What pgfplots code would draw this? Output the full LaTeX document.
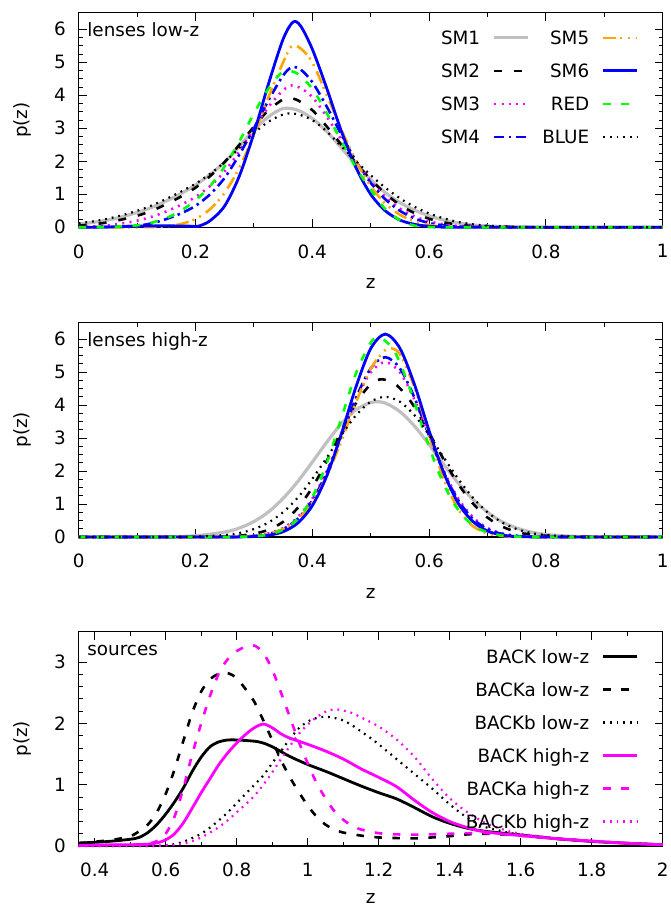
\documentclass[border=0pt]{standalone}
\usepackage{fontspec}
\setmainfont{DejaVu Sans}
\usepackage{pgfplots}
\pgfplotsset{compat=1.18}

\definecolor{smgray}{RGB}{192,192,192}
\definecolor{smorange}{RGB}{255,165,0}
\definecolor{smblue}{RGB}{0,0,255}
\definecolor{smmagenta}{RGB}{255,0,255}
\definecolor{smgreen}{RGB}{0,255,0}
\newcommand\fs{\fontsize{18.4}{22}\selectfont}

\pgfplotsset{
  panel/.style={
    scale only axis, width=584bp, height=214.5bp,
    clip=false,
    /pgf/number format/assume math mode=true,
    tick align=inside, xtick pos=both, ytick pos=both,
    major tick length=8bp, minor tick length=4bp,
    every tick/.style={black, line width=0.9bp},
    axis line style={line width=1.2bp},
    tick label style={font=\fs},
    xticklabel style={inner sep=0pt, yshift=-17bp},
    yticklabel style={inner sep=0pt, xshift=-12.7bp},
    label style={font=\fs},
    xlabel style={at={([yshift=-56bp]axis description cs:0.5,0)}, anchor=center, inner sep=0pt},
    ylabel style={at={([xshift=-56.7bp]axis description cs:0,0.5)}, anchor=center, inner sep=0pt},
    xlabel={z}, ylabel={p(z)},
    legend plot pos=right,
    legend cell align=right,
    legend image code/.code={\draw[##1] (0bp,0bp) -- (34bp,0bp);},
    legend style={at={(1,1)}, anchor=north east, xshift=-24.2bp, yshift=-18.3bp,
      draw=none, fill=none, inner sep=0pt, outer sep=0pt, font=\fs,
      row sep=19.6bp, column sep=12.5bp,
      nodes={inner sep=0pt, text height=13.4bp, text depth=0bp}},
  },
  lens/.style={panel, xmin=0, xmax=1, ymin=0, ymax=6.5,
    xtick={0,0.2,0.4,0.6,0.8,1}, minor x tick num=1,
    ytick={0,1,2,3,4,5,6}, minor y tick num=3},
  pz sm1/.style={smgray, line width=3.2bp},
  pz sm2/.style={black, line width=2.6bp, dash pattern=on 8bp off 12bp},
  pz sm3/.style={smmagenta, line width=2.6bp, dash pattern=on 2bp off 5.3bp},
  pz sm4/.style={smblue, line width=2.6bp, dash pattern=on 10bp off 4.5bp on 2.5bp off 4.5bp},
  pz sm5/.style={smorange, line width=2.6bp, dash pattern=on 13bp off 4bp on 2bp off 5.5bp on 2bp off 6bp},
  pz sm6/.style={smblue, line width=2.8bp},
  pz red/.style={smgreen, line width=2.6bp, dash pattern=on 7.5bp off 10.5bp},
  pz blue/.style={black, line width=2.2bp, dash pattern=on 1.8bp off 4.9bp},
  pz back/.style={black, line width=2.8bp},
  pz backa/.style={black, line width=2.6bp, dash pattern=on 7.5bp off 10.5bp},
  pz backb/.style={black, line width=2.2bp, dash pattern=on 1.8bp off 4.9bp},
  pz hback/.style={smmagenta, line width=2.8bp},
  pz hbacka/.style={smmagenta, line width=2.6bp, dash pattern=on 7.5bp off 10.5bp},
  pz hbackb/.style={smmagenta, line width=2.2bp, dash pattern=on 1.8bp off 4.9bp},
}

\begin{document}
\begin{tikzpicture}
\useasboundingbox (0,0) rectangle (671bp,-908bp);

% ---------------- lenses, low redshift ----------------
\begin{axis}[lens, at={(78.7bp,-227.3bp)}, anchor=south west, legend columns=2]
\addlegendimage{pz sm1}\addlegendentry{SM1}
\addlegendimage{pz sm5}\addlegendentry{SM5}
\addlegendimage{pz sm2}\addlegendentry{SM2}
\addlegendimage{pz sm6}\addlegendentry{SM6}
\addlegendimage{pz sm3}\addlegendentry{SM3}
\addlegendimage{pz red}\addlegendentry{RED}
\addlegendimage{pz sm4}\addlegendentry{SM4}
\addlegendimage{pz blue}\addlegendentry{BLUE}

\addplot[pz sm1, smooth, forget plot] coordinates {(0,0.10) (0.025,0.15) (0.05,0.22) (0.075,0.32) (0.1,0.45) (0.125,0.6) (0.15,0.8) (0.175,1.02) (0.2,1.28) (0.225,1.6) (0.25,1.98) (0.275,2.45) (0.3,2.95) (0.325,3.35) (0.35,3.6) (0.375,3.55) (0.4,3.3) (0.425,2.9) (0.45,2.4) (0.475,1.9) (0.5,1.45) (0.525,1.05) (0.55,0.75) (0.575,0.52) (0.6,0.35) (0.625,0.22) (0.65,0.13) (0.675,0.07) (0.7,0.04) (0.75,0.01) (0.8,0.003) (0.9,0) (1,0)};
\addplot[pz sm2, smooth, forget plot] coordinates {(0,0.05) (0.025,0.09) (0.05,0.15) (0.075,0.24) (0.1,0.35) (0.125,0.5) (0.15,0.7) (0.175,0.93) (0.2,1.2) (0.225,1.55) (0.25,1.98) (0.275,2.5) (0.3,3.05) (0.325,3.55) (0.35,3.88) (0.36,3.92) (0.375,3.85) (0.4,3.55) (0.425,3.05) (0.45,2.5) (0.475,1.95) (0.5,1.45) (0.525,1.02) (0.55,0.68) (0.575,0.43) (0.6,0.26) (0.625,0.15) (0.65,0.08) (0.675,0.04) (0.7,0.02) (0.75,0.005) (0.8,0) (1,0)};
\addplot[pz sm3, smooth, forget plot] coordinates {(0,0.01) (0.025,0.03) (0.05,0.06) (0.075,0.12) (0.1,0.2) (0.125,0.32) (0.15,0.48) (0.175,0.68) (0.2,0.92) (0.225,1.25) (0.25,1.7) (0.275,2.3) (0.3,3.0) (0.325,3.65) (0.35,4.15) (0.365,4.3) (0.38,4.22) (0.4,3.95) (0.425,3.35) (0.45,2.65) (0.475,2.0) (0.5,1.4) (0.525,0.92) (0.55,0.57) (0.575,0.33) (0.6,0.18) (0.625,0.09) (0.65,0.04) (0.7,0.01) (0.75,0) (1,0)};
\addplot[pz sm4, smooth, forget plot] coordinates {(0,0) (0.05,0.01) (0.1,0.05) (0.125,0.12) (0.15,0.25) (0.175,0.42) (0.2,0.65) (0.225,1.0) (0.25,1.5) (0.275,2.2) (0.3,3.0) (0.325,3.85) (0.35,4.6) (0.365,4.85) (0.38,4.78) (0.4,4.4) (0.425,3.65) (0.45,2.8) (0.475,2.0) (0.5,1.35) (0.525,0.85) (0.55,0.5) (0.575,0.27) (0.6,0.13) (0.625,0.06) (0.65,0.025) (0.7,0.005) (0.75,0) (1,0)};
\addplot[pz sm5, smooth, forget plot] coordinates {(0,0) (0.1,0) (0.15,0.03) (0.175,0.1) (0.2,0.25) (0.225,0.55) (0.25,1.05) (0.275,1.8) (0.3,2.8) (0.325,3.95) (0.35,5.0) (0.365,5.5) (0.38,5.42) (0.4,5.0) (0.425,4.0) (0.45,2.95) (0.475,2.0) (0.5,1.25) (0.525,0.72) (0.55,0.38) (0.575,0.18) (0.6,0.07) (0.625,0.02) (0.65,0.005) (0.7,0) (1,0)};
\addplot[pz sm6, smooth, forget plot] coordinates {(0,0) (0.05,0.01) (0.1,0.035) (0.15,0.045) (0.19,0.035) (0.205,0.035) (0.225,0.2) (0.25,0.65) (0.275,1.55) (0.3,2.85) (0.325,4.35) (0.35,5.7) (0.367,6.22) (0.38,6.1) (0.4,5.4) (0.425,4.2) (0.45,2.9) (0.475,1.8) (0.5,1.0) (0.525,0.5) (0.55,0.22) (0.575,0.09) (0.6,0.03) (0.625,0.01) (0.65,0) (1,0)};
\addplot[pz red, smooth, forget plot] coordinates {(0,0) (0.05,0.01) (0.1,0.06) (0.125,0.14) (0.15,0.28) (0.175,0.5) (0.2,0.82) (0.225,1.25) (0.25,1.85) (0.275,2.6) (0.3,3.45) (0.325,4.2) (0.345,4.65) (0.358,4.74) (0.375,4.65) (0.4,4.2) (0.425,3.45) (0.45,2.6) (0.475,1.8) (0.5,1.15) (0.525,0.55) (0.55,0.22) (0.575,0.05) (0.6,0.01) (0.65,0) (1,0)};
\addplot[pz blue, smooth, forget plot] coordinates {(0,0.12) (0.025,0.18) (0.05,0.26) (0.075,0.37) (0.1,0.5) (0.125,0.66) (0.15,0.86) (0.175,1.08) (0.2,1.32) (0.225,1.62) (0.25,1.98) (0.275,2.4) (0.3,2.85) (0.325,3.2) (0.35,3.42) (0.365,3.45) (0.38,3.4) (0.4,3.25) (0.425,2.9) (0.45,2.45) (0.475,2.0) (0.5,1.58) (0.525,1.2) (0.55,0.88) (0.575,0.62) (0.6,0.42) (0.625,0.27) (0.65,0.16) (0.675,0.09) (0.7,0.05) (0.75,0.015) (0.8,0.004) (0.9,0) (1,0)};
\node[anchor=base west, font=\fs, inner sep=0pt] at ([xshift=8.5bp,yshift=-23.5bp]rel axis cs:0,1) {lenses low-z};
\end{axis}

% ---------------- lenses, high redshift ----------------
\begin{axis}[lens, at={(78.7bp,-537bp)}, anchor=south west]
\addplot[pz sm1, smooth] coordinates {(0,0) (0.1,0) (0.15,0.007) (0.2,0.037) (0.25,0.15) (0.275,0.27) (0.3,0.47) (0.325,0.76) (0.35,1.17) (0.375,1.68) (0.4,2.27) (0.425,2.88) (0.45,3.44) (0.475,3.86) (0.5,4.08) (0.51,4.1) (0.525,4.06) (0.55,3.8) (0.575,3.36) (0.6,2.8) (0.625,2.2) (0.65,1.63) (0.675,1.14) (0.7,0.75) (0.725,0.46) (0.75,0.27) (0.775,0.15) (0.8,0.077) (0.85,0.018) (0.9,0.003) (0.95,0) (1,0)};
\addplot[pz sm2, smooth] coordinates {(0,0) (0.2,0) (0.25,0.013) (0.275,0.038) (0.3,0.097) (0.325,0.22) (0.35,0.46) (0.375,0.88) (0.4,1.5) (0.425,2.31) (0.45,3.22) (0.475,4.06) (0.5,4.63) (0.52,4.78) (0.545,4.59) (0.57,4.07) (0.595,3.32) (0.62,2.51) (0.645,1.74) (0.67,1.12) (0.695,0.66) (0.72,0.36) (0.745,0.18) (0.77,0.085) (0.82,0.015) (0.87,0) (1,0)};
\addplot[pz sm3, smooth] coordinates {(0,0) (0.25,0) (0.275,0.012) (0.3,0.039) (0.325,0.11) (0.35,0.27) (0.375,0.6) (0.4,1.16) (0.425,2.01) (0.45,3.07) (0.475,4.16) (0.5,4.99) (0.525,5.3) (0.55,4.99) (0.575,4.16) (0.6,3.07) (0.625,2.01) (0.65,1.16) (0.675,0.6) (0.7,0.27) (0.725,0.11) (0.75,0.039) (0.775,0.012) (0.8,0) (1,0)};
\addplot[pz sm4, smooth] coordinates {(0,0) (0.25,0) (0.275,0.009) (0.3,0.031) (0.325,0.092) (0.35,0.24) (0.375,0.55) (0.4,1.11) (0.425,1.96) (0.45,3.07) (0.475,4.22) (0.5,5.11) (0.525,5.45) (0.55,5.11) (0.575,4.22) (0.6,3.07) (0.625,1.96) (0.65,1.11) (0.675,0.55) (0.7,0.24) (0.725,0.092) (0.75,0.031) (0.775,0.009) (0.8,0) (1,0)};
\addplot[pz sm5, smooth] coordinates {(0,0) (0.25,0) (0.275,0.01) (0.3,0.034) (0.325,0.094) (0.35,0.24) (0.375,0.53) (0.4,1.05) (0.425,1.86) (0.45,2.92) (0.475,4.09) (0.5,5.1) (0.525,5.67) (0.535,5.72) (0.55,5.54) (0.575,4.54) (0.6,3.1) (0.625,1.76) (0.65,0.84) (0.675,0.33) (0.7,0.11) (0.725,0.03) (0.75,0.008) (0.8,0) (1,0)};
\addplot[pz sm6, smooth] coordinates {(0,0) (0.25,0) (0.275,0.004) (0.3,0.015) (0.325,0.052) (0.35,0.16) (0.375,0.42) (0.4,0.95) (0.425,1.86) (0.45,3.14) (0.475,4.56) (0.5,5.71) (0.525,6.15) (0.55,5.72) (0.575,4.62) (0.6,3.22) (0.625,1.95) (0.65,1.02) (0.675,0.47) (0.7,0.18) (0.725,0.06) (0.75,0.018) (0.8,0) (1,0)};
\addplot[pz red, smooth] coordinates {(0,0) (0.25,0) (0.275,0.005) (0.3,0.021) (0.325,0.073) (0.35,0.22) (0.375,0.55) (0.4,1.2) (0.425,2.25) (0.45,3.61) (0.475,4.97) (0.5,5.89) (0.515,6.05) (0.54,5.65) (0.565,4.6) (0.59,3.26) (0.615,2.02) (0.64,1.09) (0.665,0.51) (0.69,0.21) (0.715,0.075) (0.74,0.023) (0.79,0) (1,0)};
\addplot[pz blue, smooth] coordinates {(0,0) (0.15,0) (0.2,0.011) (0.25,0.06) (0.275,0.12) (0.3,0.24) (0.325,0.44) (0.35,0.75) (0.375,1.19) (0.4,1.76) (0.425,2.41) (0.45,3.09) (0.475,3.69) (0.5,4.1) (0.525,4.25) (0.55,4.1) (0.575,3.69) (0.6,3.09) (0.625,2.41) (0.65,1.76) (0.675,1.19) (0.7,0.75) (0.725,0.44) (0.75,0.24) (0.775,0.12) (0.8,0.06) (0.85,0.011) (0.9,0) (1,0)};
\node[anchor=base west, font=\fs, inner sep=0pt] at ([xshift=8.5bp,yshift=-23.5bp]rel axis cs:0,1) {lenses high-z};
\end{axis}

% ---------------- sources ----------------
\begin{axis}[panel, at={(78.7bp,-846bp)}, anchor=south west,
  xmin=0.355, xmax=2, ymin=0, ymax=3.5,
  xtick={0.4,0.6,0.8,1,1.2,1.4,1.6,1.8,2}, minor x tick num=1,
  ytick={0,1,2,3}, minor y tick num=4,
  xlabel style={at={([yshift=-52bp]axis description cs:0.5,0)}}]
\addplot[pz back, smooth] coordinates {(0.355,0.05) (0.4,0.06) (0.45,0.08) (0.5,0.11) (0.525,0.14) (0.55,0.22) (0.575,0.35) (0.6,0.52) (0.625,0.72) (0.65,0.95) (0.675,1.22) (0.7,1.45) (0.725,1.62) (0.75,1.7) (0.775,1.73) (0.8,1.73) (0.85,1.71) (0.875,1.68) (0.9,1.62) (0.925,1.54) (0.95,1.46) (1.0,1.33) (1.05,1.22) (1.1,1.1) (1.15,0.98) (1.2,0.87) (1.25,0.77) (1.3,0.63) (1.35,0.48) (1.4,0.37) (1.45,0.29) (1.5,0.24) (1.6,0.18) (1.7,0.12) (1.8,0.075) (1.9,0.045) (2.0,0.02)};
\addlegendentry{BACK low-z}
\addplot[pz backa, smooth] coordinates {(0.355,0.04) (0.4,0.07) (0.45,0.1) (0.5,0.16) (0.525,0.24) (0.55,0.35) (0.575,0.55) (0.6,0.85) (0.625,1.25) (0.65,1.72) (0.675,2.18) (0.7,2.52) (0.725,2.72) (0.75,2.81) (0.775,2.82) (0.8,2.74) (0.825,2.56) (0.85,2.35) (0.875,2.05) (0.9,1.73) (0.925,1.4) (0.95,1.12) (0.975,0.88) (1.0,0.66) (1.025,0.48) (1.05,0.35) (1.075,0.27) (1.1,0.22) (1.15,0.17) (1.2,0.14) (1.25,0.13) (1.3,0.125) (1.35,0.14) (1.4,0.16) (1.45,0.19) (1.5,0.2) (1.6,0.17) (1.7,0.12) (1.8,0.08) (1.9,0.045) (2.0,0.02)};
\addlegendentry{BACKa low-z}
\addplot[pz backb, smooth] coordinates {(0.355,0) (0.55,0) (0.6,0.01) (0.625,0.03) (0.65,0.07) (0.675,0.13) (0.7,0.2) (0.725,0.3) (0.75,0.42) (0.775,0.55) (0.8,0.7) (0.825,0.85) (0.85,1.0) (0.875,1.15) (0.9,1.35) (0.925,1.55) (0.95,1.75) (0.975,1.92) (1.0,2.03) (1.025,2.09) (1.05,2.11) (1.075,2.09) (1.1,2.05) (1.125,1.97) (1.15,1.87) (1.175,1.77) (1.2,1.66) (1.25,1.42) (1.3,1.18) (1.35,0.94) (1.4,0.68) (1.45,0.46) (1.5,0.31) (1.55,0.24) (1.6,0.18) (1.7,0.12) (1.8,0.08) (1.9,0.045) (2.0,0.02)};
\addlegendentry{BACKb low-z}
\addplot[pz hback, smooth] coordinates {(0.355,0.01) (0.45,0.02) (0.5,0.02) (0.55,0.03) (0.575,0.05) (0.6,0.1) (0.625,0.2) (0.65,0.38) (0.675,0.62) (0.7,0.87) (0.725,1.1) (0.75,1.33) (0.775,1.52) (0.8,1.68) (0.825,1.82) (0.85,1.93) (0.875,1.99) (0.9,1.93) (0.925,1.83) (0.95,1.76) (1.0,1.66) (1.05,1.55) (1.1,1.42) (1.15,1.26) (1.2,1.12) (1.25,0.97) (1.3,0.75) (1.35,0.55) (1.4,0.4) (1.45,0.3) (1.5,0.23) (1.6,0.17) (1.7,0.12) (1.8,0.08) (1.9,0.045) (2.0,0.02)};
\addlegendentry{BACK high-z}
\addplot[pz hbacka, smooth] coordinates {(0.355,0.01) (0.5,0.02) (0.55,0.04) (0.575,0.08) (0.6,0.2) (0.625,0.48) (0.65,0.95) (0.675,1.5) (0.7,2.0) (0.725,2.45) (0.75,2.82) (0.775,3.05) (0.8,3.18) (0.825,3.25) (0.85,3.27) (0.875,3.15) (0.9,2.88) (0.925,2.5) (0.95,2.1) (0.975,1.7) (1.0,1.35) (1.025,1.03) (1.05,0.78) (1.075,0.57) (1.1,0.43) (1.125,0.33) (1.15,0.27) (1.2,0.21) (1.25,0.19) (1.3,0.185) (1.35,0.19) (1.4,0.2) (1.45,0.21) (1.5,0.21) (1.6,0.17) (1.7,0.12) (1.8,0.08) (1.9,0.045) (2.0,0.02)};
\addlegendentry{BACKa high-z}
\addplot[pz hbackb, smooth] coordinates {(0.355,0) (0.55,0) (0.6,0.01) (0.625,0.02) (0.65,0.04) (0.675,0.08) (0.7,0.14) (0.725,0.22) (0.75,0.31) (0.775,0.42) (0.8,0.55) (0.825,0.68) (0.85,0.82) (0.875,1.0) (0.9,1.2) (0.925,1.42) (0.95,1.63) (0.975,1.83) (1.0,1.98) (1.025,2.1) (1.05,2.19) (1.075,2.23) (1.1,2.21) (1.125,2.17) (1.15,2.1) (1.2,1.95) (1.25,1.74) (1.3,1.46) (1.35,1.1) (1.4,0.78) (1.45,0.55) (1.5,0.38) (1.55,0.27) (1.6,0.2) (1.7,0.13) (1.8,0.08) (1.9,0.045) (2.0,0.02)};
\addlegendentry{BACKb high-z}
\node[anchor=base west, font=\fs, inner sep=0pt] at ([xshift=8.5bp,yshift=-23.5bp]rel axis cs:0,1) {sources};
\end{axis}
\end{tikzpicture}
\end{document}
